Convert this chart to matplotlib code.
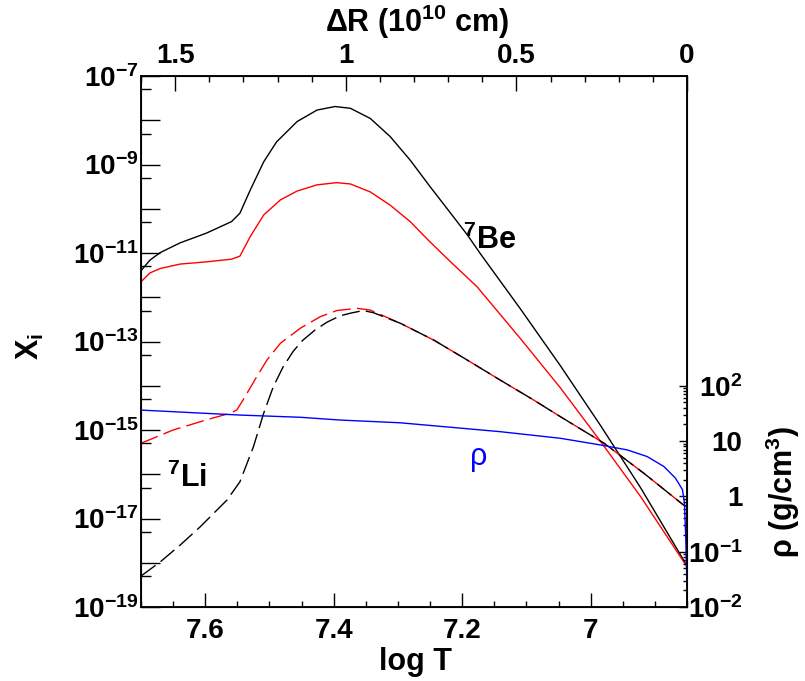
import numpy as np
import matplotlib
matplotlib.use('Agg')
import matplotlib.pyplot as plt
from matplotlib.ticker import FixedLocator, FuncFormatter, MultipleLocator

plt.rcParams['font.family'] = 'Liberation Sans'
plt.rcParams['font.weight'] = 'bold'
plt.rcParams['mathtext.fontset'] = 'custom'
plt.rcParams['mathtext.rm'] = 'Liberation Sans:bold'
plt.rcParams['mathtext.it'] = 'Liberation Sans:bold'
plt.rcParams['mathtext.bf'] = 'Liberation Sans:bold'
plt.rcParams['mathtext.sf'] = 'Liberation Sans'
plt.rcParams['mathtext.default'] = 'rm'

# 7Be mass fraction, two models (log T, log X)
be1_logT = [7.70, 7.686, 7.670, 7.639, 7.598, 7.559, 7.546, 7.530, 7.509, 7.489,
            7.457, 7.426, 7.398, 7.374, 7.343, 7.312, 7.281, 7.250, 7.218, 7.192,
            7.172, 7.109, 7.047, 6.985, 6.922, 6.85]
be1_logX = [-11.40, -11.16, -10.99, -10.77, -10.55, -10.29, -10.10, -9.58, -8.94, -8.49,
            -8.03, -7.77, -7.69, -7.73, -7.96, -8.37, -8.90, -9.50, -10.10, -10.59,
            -11.01, -12.27, -13.55, -14.89, -16.31, -18.07]

be2_logT = [7.70, 7.686, 7.670, 7.639, 7.598, 7.559, 7.546, 7.530, 7.509, 7.483,
            7.457, 7.426, 7.395, 7.374, 7.343, 7.312, 7.281, 7.250, 7.218, 7.177,
            7.109, 7.047, 6.985, 6.922, 6.85]
be2_logX = [-11.65, -11.45, -11.35, -11.25, -11.20, -11.14, -11.07, -10.63, -10.14, -9.80,
            -9.60, -9.46, -9.41, -9.44, -9.62, -9.92, -10.29, -10.75, -11.20, -11.76,
            -12.94, -14.05, -15.25, -16.51, -18.09]

# 7Li mass fraction, two models
li1_logT = [7.70, 7.670, 7.639, 7.608, 7.566, 7.546, 7.525, 7.509, 7.494, 7.479,
            7.463, 7.448, 7.429, 7.410, 7.390, 7.374, 7.354, 7.338, 7.296, 7.244,
            7.192, 7.141, 7.089, 7.047, 6.979, 6.917, 6.855, 6.85]
li1_logX = [-18.30, -17.98, -17.60, -17.19, -16.58, -16.17, -15.38, -14.62, -14.02, -13.58,
            -13.22, -12.97, -12.74, -12.56, -12.42, -12.36, -12.30, -12.35, -12.59, -12.97,
            -13.42, -13.87, -14.32, -14.70, -15.30, -15.98, -16.70, -16.73]

li2_logT = [7.70, 7.650, 7.598, 7.561, 7.551, 7.541, 7.520, 7.504, 7.483, 7.452,
            7.421, 7.395, 7.364, 7.343, 7.296, 7.244, 7.192, 7.141, 7.089, 7.047,
            6.979, 6.917, 6.855, 6.85]
li2_logX = [-15.30, -15.00, -14.77, -14.62, -14.55, -14.32, -13.80, -13.42, -13.04, -12.70,
            -12.44, -12.30, -12.25, -12.29, -12.59, -12.97, -13.42, -13.87, -14.32, -14.70,
            -15.30, -15.98, -16.70, -16.73]

# density profile (right axis)
rho_logT = [7.70, 7.546, 7.452, 7.390, 7.296, 7.141, 7.047, 6.985, 6.943, 6.912,
            6.886, 6.868, 6.857, 6.854, 6.852, 6.8502]
rho_log = [1.56, 1.47, 1.43, 1.38, 1.33, 1.17, 1.05, 0.93, 0.84, 0.72,
           0.54, 0.33, 0.12, -0.12, -0.73, -1.55]

W, H = 805, 681
fig = plt.figure(figsize=(W / 100, H / 100), dpi=100)
ax = fig.add_axes([141 / W, 1 - 607 / H, (687 - 141) / W, (607 - 76) / H])

dash = (13, 4.5)
ax.plot(be1_logT, 10.0 ** np.array(be1_logX), color='black', lw=1.0)
ax.plot(be2_logT, 10.0 ** np.array(be2_logX), color='red', lw=1.0)
ax.plot(li2_logT, 10.0 ** np.array(li2_logX), color='red', lw=1.0, dashes=dash)
ax.plot(li1_logT, 10.0 ** np.array(li1_logX), color='black', lw=1.0, dashes=dash)

ax.set_xlim(7.7, 6.85)
ax.set_yscale('log')
ax.set_ylim(1e-19, 1e-7)

ax.xaxis.set_major_locator(FixedLocator([7.6, 7.4, 7.2, 7.0]))
ax.xaxis.set_minor_locator(MultipleLocator(0.05))
ax.xaxis.set_major_formatter(FuncFormatter(lambda v, p: '%g' % v))
ax.yaxis.set_major_locator(FixedLocator(10.0 ** np.arange(-19, -6)))
ax.yaxis.set_minor_locator(FixedLocator(5 * 10.0 ** np.arange(-19, -7)))


def xi_label(v, pos):
    e = int(round(np.log10(v)))
    return r'$10^{%d}$' % e if e % 2 else ''


ax.yaxis.set_major_formatter(FuncFormatter(xi_label))
ax.tick_params(axis='x', which='major', direction='in', length=10, width=1,
               labelsize=20, pad=8)
ax.tick_params(axis='x', which='minor', direction='in', length=4.5, width=1)
ax.tick_params(axis='y', which='major', direction='in', length=13.5, width=1,
               labelsize=20, pad=2)
ax.tick_params(axis='y', which='minor', direction='in', length=7, width=1)
for s in ax.spines.values():
    s.set_linewidth(1.1)

# top axis: distance from the surface
ax_top = ax.twiny()
ax_top.set_xlim(1.6, 0)
ax_top.xaxis.set_major_locator(FixedLocator([1.5, 1.0, 0.5, 0.0]))
ax_top.xaxis.set_minor_locator(MultipleLocator(0.1))
ax_top.xaxis.set_major_formatter(FuncFormatter(lambda v, p: '%g' % v))
ax_top.tick_params(axis='x', which='major', direction='in', length=11, width=1,
                   labelsize=20, pad=5)
ax_top.tick_params(axis='x', which='minor', direction='in', length=4.5, width=1)

# right axis: density
ax_r = ax.twinx()
ax_r.plot(rho_logT, 10.0 ** np.array(rho_log), color='blue', lw=1.0)
ax_r.set_yscale('log')
ax_r.set_ylim(1e-2, 10 ** 7.6)
ax_r.set_xlim(7.7, 6.85)
ax_r.yaxis.set_major_locator(FixedLocator([1e-2, 1e-1, 1, 10, 100]))
ax_r.yaxis.set_minor_locator(FixedLocator([k * 10.0 ** n for n in range(-2, 2)
                                           for k in range(2, 10)]))
rho_names = {-2: r'$10^{-2}$', -1: r'$10^{-1}$', 0: '1', 1: '10', 2: r'$10^{2}$'}
ax_r.yaxis.set_major_formatter(FuncFormatter(
    lambda v, p: rho_names[int(round(np.log10(v)))]))
ax_r.tick_params(axis='y', which='major', direction='in', length=6, width=1,
                 labelsize=20, pad=40)
ax_r.tick_params(axis='y', which='minor', direction='in', length=3, width=1)
plt.setp(ax_r.get_yticklabels(), ha='right')
for s in ax_r.spines.values():
    s.set_linewidth(1.1)


def px(x, y):
    return x / W, 1 - y / H


fig.text(*px(415, 662), 'log T', fontsize=22, ha='center', va='center')
fig.text(*px(417, 22), r'$\Delta$R (10$^{10}$ cm)', fontsize=22, ha='center', va='center')
fig.text(*px(30, 346), r'X$_{i}$', fontsize=22, ha='center', va='center', rotation=90)
fig.text(*px(783, 492), r'$\mathsf{\rho}$ (g/cm$^{3}$)', fontsize=22,
         ha='center', va='center', rotation=90)
fig.text(*px(463, 240), r'$^{7}$Be', fontsize=22, ha='left', va='center')
fig.text(*px(167, 478), r'$^{7}$Li', fontsize=22, ha='left', va='center')
fig.text(*px(479, 457), 'ρ', fontsize=22, fontweight='normal', color='blue',
         ha='center', va='center')

fig.savefig('out.png', dpi=100)
